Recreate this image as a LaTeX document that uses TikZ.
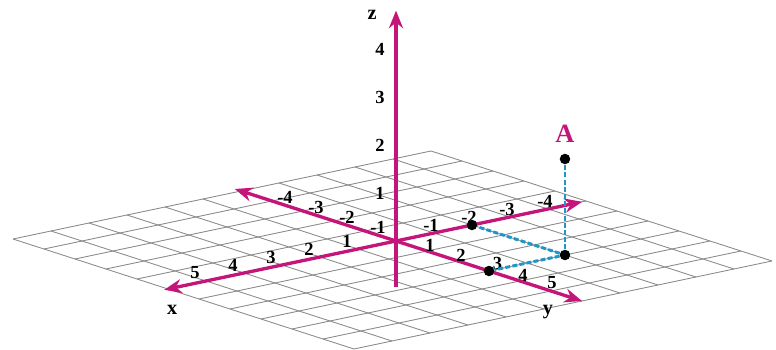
\documentclass[tikz,border=0pt]{standalone}
\usepackage{fontspec}
\setmainfont{Liberation Serif}
\usepackage{xcolor}
\usetikzlibrary{arrows.meta,positioning}
\definecolor{mag}{RGB}{196,22,122}
\definecolor{cyn}{RGB}{32,150,200}
\tikzset{
  ax/.style={line width=1.9pt,mag,{Stealth[length=10pt,width=8pt]}-{Stealth[length=10pt,width=8pt]}},
  zax/.style={line width=1.9pt,mag,-{Stealth[length=10pt,width=8pt]}},
  grd/.style={gray!90,line width=0.5pt},
  proj/.style={cyn,line width=1.7pt,dash pattern=on 2.8pt off 1.3pt},
  pnt/.style={circle,fill=black,inner sep=0pt,minimum size=0.21cm},
  num/.style={font=\fontsize{10.5}{12}\selectfont\bfseries,inner sep=0pt},
  axl/.style={font=\fontsize{11.5}{13}\selectfont\bfseries,inner sep=0pt}
}

\begin{document}
\begin{tikzpicture}[x={(-0.76cm,-0.16cm)},y={(0.62cm,-0.2cm)},z={(0cm,0.96cm)}]
\useasboundingbox (-7.92cm,-2.16cm) rectangle (7.6cm,4.82cm);
\foreach \i in {-5,...,6} {\draw[grd] (\i,-5,0) -- (\i,6,0); \draw[grd] (-5,\i,0) -- (6,\i,0);}
% axes
\coordinate (xe) at (6.1,0,0); \coordinate (xn) at (-4.9,0,0);
\coordinate (ye) at (0,6,0);   \coordinate (yn) at (0,-5.2,0);
\coordinate (zb) at (0,0,-0.96); \coordinate (ze) at (0,0,4.8);
\draw[ax] (xn) -- (xe); \draw[ax] (yn) -- (ye); \draw[zax] (zb) -- (ze);
\node[axl,xshift=0.16cm,yshift=-0.4cm] (xl) at (xe) {x};
\node[axl,xshift=-0.68cm,yshift=-0.22cm] (yl) at (ye) {y};
\node[axl,xshift=-0.48cm,yshift=-0.08cm] (zl) at (ze) {z};
% ticks
\foreach \i in {1,...,5} \node[num,xshift=-0.22cm,yshift=0.16cm] (xp\i) at (\i,0,0) {\i};
\foreach \i in {1,...,4} \node[num,xshift=-0.06cm,yshift=0.15cm] (xm\i) at (-\i,0,0) {-\i};
\foreach \i in {1,...,4} \node[num,xshift=0.26cm,yshift=0.08cm] (ym\i) at (0,-\i,0) {-\i};
\foreach \i in {1,2,4} \node[num,xshift=0.06cm,yshift=0.11cm] (yp\i) at (0,\i,0) {\i};
\node[num,xshift=0.17cm,yshift=0.16cm] (yp3) at (0,3,0) {3};
\node[num,xshift=0.02cm,yshift=0.17cm] (yp5) at (0,5,0) {5};
\foreach \i in {1,...,4} \node[num,xshift=-0.32cm] (zp\i) at (0,0,\i) {\i};
% point A
\node[pnt] (pu) at (-2,0,0) {};
\node[pnt] (pv) at (0,3,0) {};
\node[pnt] (pb) at (-2,3,0) {};
\node[pnt] (pa) at (-2,3,2) {};
\draw[proj] (pb) -- (pa); \draw[proj] (pb) -- (pu); \draw[proj] (pb) -- (pv);
\node[inner sep=0pt,text=mag,font=\fontsize{15}{17}\selectfont\bfseries,above=0.22cm of pa] (la) {A};
\end{tikzpicture}
\end{document}
